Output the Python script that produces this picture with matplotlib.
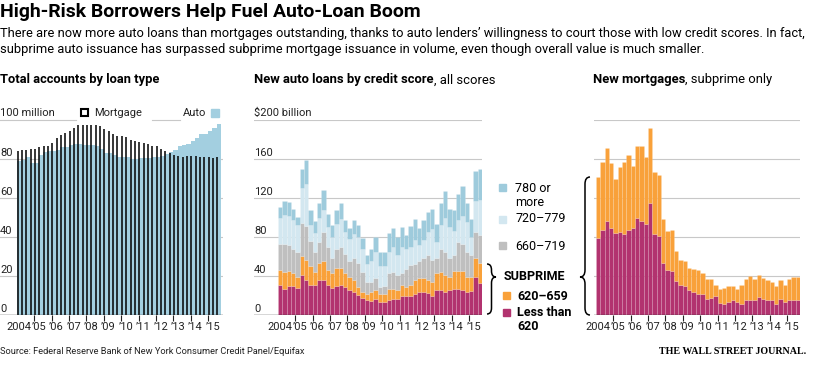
import matplotlib
matplotlib.use("Agg")
import matplotlib.pyplot as plt
from matplotlib import font_manager
from matplotlib.path import Path
from matplotlib.patches import PathPatch, Rectangle
import numpy as np

W, H = 831, 381

installed = {f.name for f in font_manager.fontManager.ttflist}
SANS = "Liberation Sans Narrow" if "Liberation Sans Narrow" in installed else "Roboto"
plt.rcParams['font.family'] = [SANS, 'DejaVu Sans']

# quarters 2004 Q1 .. 2015 Q3
year_labels = ['2004', '\u201905', '\u201906', '\u201907', '\u201908', '\u201909', '\u201910',
               '\u201911', '\u201912', '\u201913', '\u201914', '\u201915']

# total accounts, millions
auto_accounts = [79, 79.5, 81, 78, 78, 82, 83.4, 83.8, 83.8, 84.6, 85.8, 85.8, 86.8, 87.5, 87.5, 86.8,
                 86.8, 86.8, 86.3, 85.1, 82.9, 82.9, 82, 80.7, 80.7, 80.7, 79.8, 79.8, 80.3, 80.3, 80.3,
                 80.7, 80.7, 81.5, 82.4, 83.2, 84.6, 86.3, 86.8, 87.5, 88.9, 90.6, 92.6, 92.6, 94, 95.7, 97.8]
mortgage_accounts = [83.8, 84.3, 84.6, 85, 85.1, 86, 86.7, 86.7, 88, 90.6, 92.3, 93.2, 94, 95.7, 97.1, 97.4,
                     97.4, 97.4, 97.1, 96.6, 95.2, 94, 92.6, 91.8, 91.5, 90.9, 89.7, 88.9, 88.4, 88, 87.5,
                     86.7, 86.3, 85.1, 84.1, 82.9, 82, 81.5, 80.7, 81.2, 81.5, 81.2, 81, 81, 80.7, 80.3, 80.7]

# new auto loans by credit score, $ billion
auto_lt620 = [31, 27, 30, 30, 28, 41, 36, 31, 31, 36, 36, 31, 28, 30, 31, 29, 26, 24, 21, 17, 15, 14, 16, 13,
              13, 15, 16, 16, 19, 20, 19, 22, 24, 24, 23, 20, 26, 26, 24, 26, 27, 27, 26, 24, 25, 39, 33]
auto_620_659 = [15, 17, 15, 13, 11, 20, 20, 19, 13, 17, 19, 15, 15, 18, 17, 14, 13, 12, 8, 7, 7, 10, 10, 9,
                9, 12, 11, 10, 12, 9, 12, 14, 14, 14, 13, 14, 17, 18, 17, 13, 18, 18, 19, 15, 14, 19, 20]
auto_660_719 = [27, 29, 27, 25, 26, 33, 35, 26, 21, 22, 30, 24, 15, 20, 22, 20, 16, 22, 24, 20, 12, 10, 12, 7,
                8, 16, 17, 15, 12, 18, 20, 16, 17, 20, 26, 22, 15, 24, 24, 19, 17, 30, 28, 26, 23, 27, 29]
auto_720_779 = [26, 30, 30, 29, 27, 36, 43, 16, 19, 25, 23, 20, 22, 25, 28, 22, 23, 25, 27, 24, 18, 21, 27, 21,
                20, 22, 26, 21, 27, 21, 19, 25, 17, 19, 23, 32, 17, 24, 35, 32, 24, 22, 29, 30, 18, 32, 36]
auto_780 = [12, 14, 14, 12, 9, 20, 25, 16, 12, 15, 20, 14, 12, 15, 17, 12, 11, 14, 12, 11, 10, 13, 15, 15,
            15, 19, 19, 18, 20, 14, 21, 21, 17, 20, 21, 21, 18, 23, 27, 19, 22, 27, 30, 20, 18, 31, 32]

# new subprime mortgages, $ billion
mort_lt620 = [79, 87, 96, 89, 84, 85, 83, 87, 89, 100, 96, 93, 115, 83, 81, 53, 46, 45, 35, 31, 30, 26, 24, 22,
              22, 16, 17, 19, 12, 11, 13, 15, 13, 11, 15, 15, 15, 18, 16, 15, 15, 11, 16, 13, 15, 15, 15]
mort_620_659 = [63, 70, 75, 67, 55, 67, 74, 77, 64, 73, 77, 69, 77, 64, 63, 45, 40, 42, 31, 25, 25, 22, 23, 24,
                21, 21, 20, 12, 15, 17, 17, 15, 14, 20, 22, 25, 22, 23, 22, 21, 19, 19, 20, 18, 22, 24, 24]

C_AUTO = '#a3cfe0'
C_780 = '#9ecbdc'
C_720 = '#d3e7f0'
C_660 = '#bfbfbf'
C_620 = '#f9a13a'
C_LT = '#b2336f'
GRID = '#c8c8c8'
SEAM = (1, 1, 1, 0.2)
LAB = 8

fig = plt.figure(figsize=(W / 100, H / 100), dpi=100)


def px_axes(x0, x1, ytop, ybot):
    return fig.add_axes([x0 / W, 1 - ybot / H, (x1 - x0) / W, (ybot - ytop) / H])


def ftext(x, y, s, **kw):
    kw.setdefault('va', 'center')
    return fig.text(x / W, 1 - y / H, s, **kw)


def square(x, y, s, **kw):
    fig.add_artist(Rectangle((x / W, 1 - (y + s) / H), s / W, s / H, transform=fig.transFigure, **kw))


def brace(x_base, x_tip, ytop, ytip, ybot, r=6):
    xm = (x_base + x_tip) / 2
    pts = [(x_base, ytop), (xm, ytop), (xm, ytop + r), (xm, ytip - r), (xm, ytip), (x_tip, ytip),
           (xm, ytip), (xm, ytip + r), (xm, ybot - r), (xm, ybot), (x_base, ybot)]
    codes = [Path.MOVETO, Path.CURVE3, Path.CURVE3, Path.LINETO, Path.CURVE3, Path.CURVE3,
             Path.CURVE3, Path.CURVE3, Path.LINETO, Path.CURVE3, Path.CURVE3]
    pts = [(x / W, 1 - y / H) for x, y in pts]
    fig.add_artist(PathPatch(Path(pts, codes), transform=fig.transFigure, fill=False, lw=1.1, ec='black'))


def setup(ax, ymax, step, nq_left, nq_right):
    ax.set_xlim(nq_left, nq_right)
    ax.set_ylim(0, ymax)
    for s in ax.spines.values():
        s.set_visible(False)
    ax.set_yticks([])
    ax.set_xticks(np.arange(4, 48, 4))
    ax.tick_params(axis='x', length=4, width=0.8, color='#222', labelbottom=False)
    for v in np.arange(step, ymax + 1, step):
        ax.axhline(v, color=GRID, lw=0.8, zorder=0)
    ax.axhline(0, color='#333', lw=1.0, zorder=5)
    ax.set_facecolor('none')


def year_text(x0px, qw):
    for k, lab in enumerate(year_labels):
        qq = 0.5 if k == 0 else 4 * k + 1.1
        ftext(x0px + qq * qw, 327, lab, ha='center', fontsize=LAB, color='#222')


def fit(texts, target):
    r = fig.canvas.get_renderer()
    w = sum(t.get_window_extent(r).width for t in texts)
    for t in texts:
        t.set_fontsize(t.get_fontsize() * target / w)


def title_pair(x, y, bold, rest, target):
    a = ftext(x, y, bold, fontsize=10.5, fontweight='bold')
    b = ftext(x, y, rest, fontsize=10.5)
    fit([a, b], target)
    r = fig.canvas.get_renderer()
    b.set_x(a.get_window_extent(r).x1 / W)


q = np.arange(47) + 0.5
QW = 204 / 47.0

# ---- left panel ----
ax1 = px_axes(0, 223, 119.5, 315)
setup(ax1, 100, 20, -17 / QW, 47 + 2 / QW)
ax1.lines[-2].remove()  # top line is drawn in pieces
ax1.bar(q, auto_accounts, width=1.0, color=C_AUTO, lw=0, zorder=1)
ax1.vlines(q - 0.35, 0, mortgage_accounts, color='black', lw=1.1, zorder=2)
for a, b in [(0, 76), (152, 180)]:
    fig.add_artist(plt.Line2D([a / W, b / W], [1 - 119.5 / H] * 2, color=GRID, lw=0.8))
for v in [80, 60, 40, 20, 0]:
    ftext(0, 315 - v * 1.955 - 6, str(v), fontsize=LAB, color='#222')
ftext(0, 113, '100 million', fontsize=LAB, color='#222')
square(81, 109, 7, fill=False, ec='black', lw=1.5)
ftext(94, 113, 'Mortgage', fontsize=LAB, color='#222')
ftext(183, 113, 'Auto', fontsize=LAB, color='#222')
square(211, 109, 8, color=C_AUTO)
year_text(17, QW)

# ---- middle panel ----
ax2 = px_axes(254, 482, 120, 315)
setup(ax2, 200, 40, -24 / QW, 47)
bottom = np.zeros(47)
for vals, c in [(auto_lt620, C_LT), (auto_620_659, C_620), (auto_660_719, C_660),
                (auto_720_779, C_720), (auto_780, C_780)]:
    ax2.bar(q, vals, bottom=bottom, width=1.0, color=c, ec=SEAM, lw=0.4, zorder=1)
    bottom += np.array(vals)
for v in [160, 120, 80, 40, 0]:
    ftext(254, 315 - v * 0.975 - 6, str(v), fontsize=LAB, color='#222')
ftext(254, 113, '$200 billion', fontsize=LAB, color='#222')
year_text(278, QW)

# legend
square(499, 184, 6.5, color=C_780)
ftext(515, 189, '780 or', fontsize=9)
ftext(515, 203, 'more', fontsize=9)
square(499, 216, 6.5, color=C_720)
ftext(515, 219, '720–779', fontsize=9)
square(499, 242, 6.5, color=C_660)
ftext(515, 246, '660–719', fontsize=9)
brace(487, 496, 264, 277, 314)
ftext(504, 277, 'SUBPRIME', fontsize=9, fontweight='bold')
square(503, 292, 6.5, color=C_620)
ftext(517, 296, '620–659', fontsize=9, fontweight='bold')
square(503, 309, 6.5, color=C_LT)
ftext(517, 313, 'Less than', fontsize=9, fontweight='bold')
ftext(517, 327, '620', fontsize=9, fontweight='bold')

# ---- right panel ----
ax3 = px_axes(594, 800, 120, 315)
setup(ax3, 200, 40, -2 / QW, 47)
ax3.bar(q, mort_lt620, width=1.0, color=C_LT, ec=SEAM, lw=0.4, zorder=1)
ax3.bar(q, mort_620_659, bottom=mort_lt620, width=1.0, color=C_620, ec=SEAM, lw=0.4, zorder=1)
year_text(596, QW)
brace(590, 580, 177, 277, 315, r=7)

# ---- titles ----
fig.canvas.draw()
t = ftext(0, 12, 'High-Risk Borrowers Help Fuel Auto-Loan Boom', fontsize=15, fontweight='bold')
fit([t], 424)
t = ftext(0, 33, 'There are now more auto loans than mortgages outstanding, thanks to auto lenders\u2019 '
          'willingness to court those with low credit scores. In fact,', fontsize=10)
fit([t], 803)
t2 = ftext(0, 49, 'subprime auto issuance has surpassed subprime mortgage issuance in volume, '
           'even though overall value is much smaller.', fontsize=t.get_fontsize())
t = ftext(0, 80, 'Total accounts by loan type', fontsize=10.5, fontweight='bold')
fit([t], 160)
title_pair(254, 80, 'New auto loans by credit score', ', all scores', 243)
title_pair(593, 80, 'New mortgages', ', subprime only', 180)

t = ftext(0, 352, 'Source: Federal Reserve Bank of New York Consumer Credit Panel/Equifax', fontsize=7.5, color='#222')
fit([t], 305)
t = ftext(806, 352, 'THE WALL STREET JOURNAL.', fontsize=7.5, fontweight='bold', ha='right',
          family='Liberation Serif')
fit([t], 146)

fig.savefig('out.png', dpi=100)
